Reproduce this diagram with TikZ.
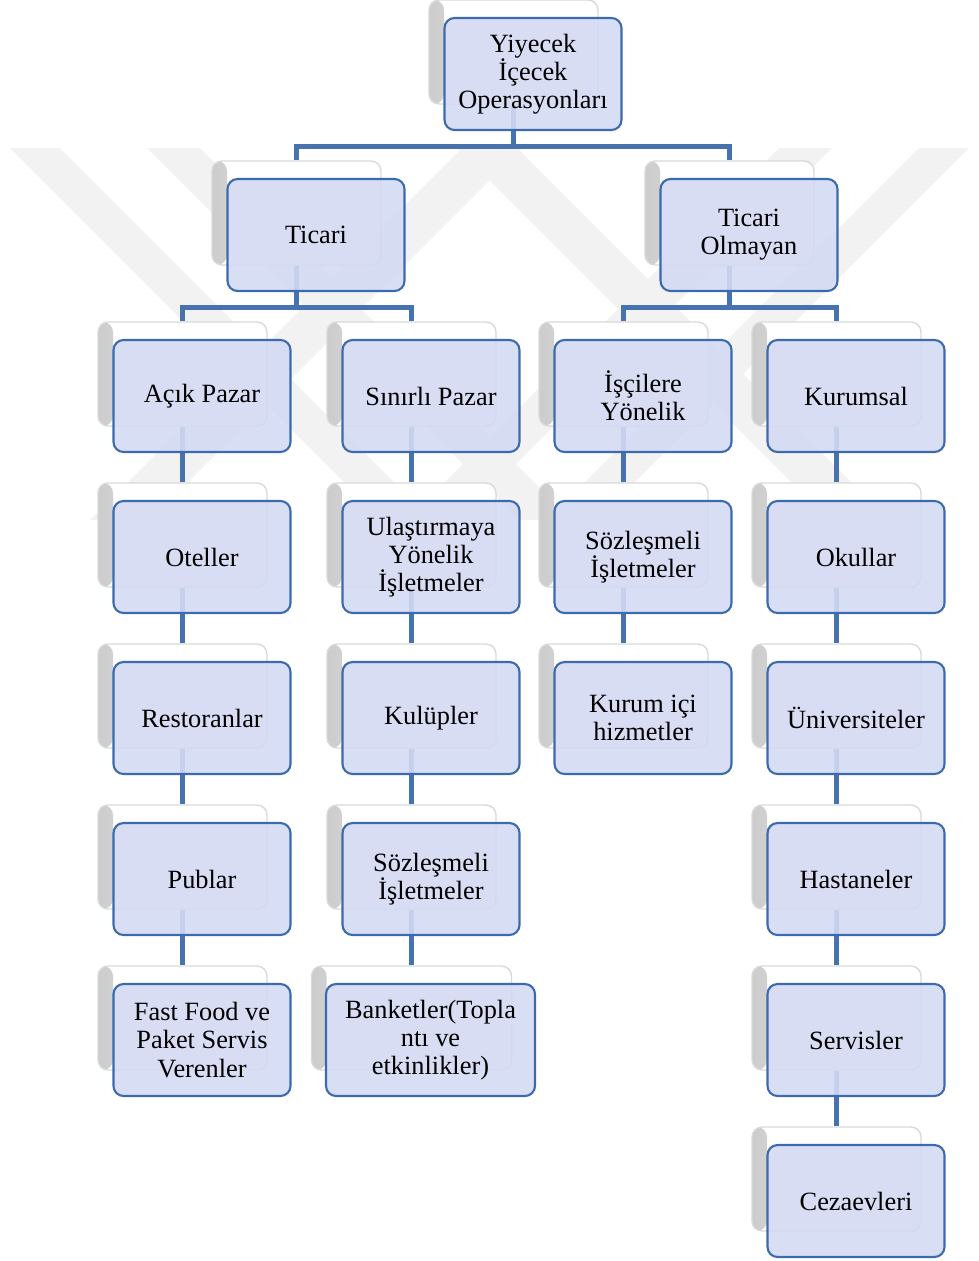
\documentclass[tikz,border=0pt]{standalone}
\usepackage{fontspec}
\setmainfont{Liberation Serif}
\definecolor{kenar}{HTML}{3C6AAE}
\definecolor{dolgu}{HTML}{D4DAF2}
\definecolor{hat}{HTML}{4673B0}
\begin{document}
\begin{tikzpicture}[x=0.02cm,y=-0.02cm,
	kutu/.style={draw=kenar,line width=1.2pt,fill=dolgu,fill opacity=0.9,text opacity=1,rounded corners=0.2cm,minimum width=3.54cm,minimum height=2.24cm,inner sep=0pt,align=center,font=\fontsize{15}{16}\selectfont},
	arka/.style={draw=black!15,line width=0.8pt,fill=white,rounded corners=0.2cm,minimum width=3.38cm,minimum height=2.08cm,inner sep=0pt,path picture={\shade[left color=black!20,right color=white] (path picture bounding box.north west) rectangle ([xshift=0.3cm]path picture bounding box.south west);}},
	bag/.style={draw=hat,line width=2.6pt},
	iz/.style={fill=black!5}]
	\useasboundingbox (0,0) rectangle (979,1261);
	
	% soluk arka plan
	\fill[iz] (10,148) -- (60,148) -- (432,520) -- (382,520) -- cycle;
	\fill[iz] (147,148) -- (200,148) -- (572,520) -- (519,520) -- cycle;
	\fill[iz] (969,148) -- (919,148) -- (547,520) -- (597,520) -- cycle;
	\fill[iz] (832,148) -- (779,148) -- (407,520) -- (460,520) -- cycle;
	\fill[iz] (90,520) -- (150,520) -- (522,148) -- (462,148) -- cycle;
	\fill[iz] (889,520) -- (829,520) -- (457,148) -- (517,148) -- cycle;
	
	% arka kartlar
	\node[arka] (gYI) at (513.5,52) {};
	\node[arka] (gTI) at (296.5,213) {};
	\node[arka] (gTO) at (729.5,213) {};
	\node[arka] (gAP) at (182.5,374) {};
	\node[arka] (gSP) at (411.5,374) {};
	\node[arka] (gIY) at (623.5,374) {};
	\node[arka] (gKU) at (836.5,374) {};
	\node[arka] (gOT) at (182.5,535) {};
	\node[arka] (gUY) at (411.5,535) {};
	\node[arka] (gSO) at (623.5,535) {};
	\node[arka] (gOK) at (836.5,535) {};
	\node[arka] (gRE) at (182.5,696) {};
	\node[arka] (gKL) at (411.5,696) {};
	\node[arka] (gKI) at (623.5,696) {};
	\node[arka] (gUN) at (836.5,696) {};
	\node[arka] (gPU) at (182.5,857) {};
	\node[arka] (gSI) at (411.5,857) {};
	\node[arka] (gHA) at (836.5,857) {};
	\node[arka] (gFF) at (182.5,1018) {};
	\node[arka,minimum width=4cm] (gBA) at (411.5,1018) {};
	\node[arka] (gSE) at (836.5,1018) {};
	\node[arka] (gCE) at (836.5,1179) {};
	
	% baglantilar
	\draw[bag] (gYI.south) -- ++(0,42) -| (gTI.north);
	\draw[bag] (gYI.south) -- ++(0,42) -| (gTO.north);
	\draw[bag] (gTI.south) -- ++(0,42) -| (gAP.north);
	\draw[bag] (gTI.south) -- ++(0,42) -| (gSP.north);
	\draw[bag] (gTO.south) -- ++(0,42) -| (gIY.north);
	\draw[bag] (gTO.south) -- ++(0,42) -| (gKU.north);
	\draw[bag] (gAP.south) -- (gOT.north);
	\draw[bag] (gOT.south) -- (gRE.north);
	\draw[bag] (gRE.south) -- (gPU.north);
	\draw[bag] (gPU.south) -- (gFF.north);
	\draw[bag] (gSP.south) -- (gUY.north);
	\draw[bag] (gUY.south) -- (gKL.north);
	\draw[bag] (gKL.south) -- (gSI.north);
	\draw[bag] (gSI.south) -- (gBA.north);
	\draw[bag] (gIY.south) -- (gSO.north);
	\draw[bag] (gSO.south) -- (gKI.north);
	\draw[bag] (gKU.south) -- (gOK.north);
	\draw[bag] (gOK.south) -- (gUN.north);
	\draw[bag] (gUN.south) -- (gHA.north);
	\draw[bag] (gHA.south) -- (gSE.north);
	\draw[bag] (gSE.south) -- (gCE.north);
	
	% kutular
	\node[kutu] (YI) at (533,74) {Yiyecek\\İçecek\\Operasyonları};
	\node[kutu] (TI) at (316,235) {Ticari};
	\node[kutu] (TO) at (749,235) {Ticari\\Olmayan};
	\node[kutu] (AP) at (202,396) {Açık Pazar};
	\node[kutu] (SP) at (431,396) {Sınırlı Pazar};
	\node[kutu] (IY) at (643,396) {İşçilere\\Yönelik};
	\node[kutu] (KU) at (856,396) {Kurumsal};
	\node[kutu] (OT) at (202,557) {Oteller};
	\node[kutu] (UY) at (431,557) {Ulaştırmaya\\Yönelik\\İşletmeler};
	\node[kutu] (SO) at (643,557) {Sözleşmeli\\İşletmeler};
	\node[kutu] (OK) at (856,557) {Okullar};
	\node[kutu] (RE) at (202,718) {Restoranlar};
	\node[kutu] (KL) at (431,718) {Kulüpler};
	\node[kutu] (KI) at (643,718) {Kurum içi\\hizmetler};
	\node[kutu] (UN) at (856,718) {Üniversiteler};
	\node[kutu] (PU) at (202,879) {Publar};
	\node[kutu] (SI) at (431,879) {Sözleşmeli\\İşletmeler};
	\node[kutu] (HA) at (856,879) {Hastaneler};
	\node[kutu] (FF) at (202,1040) {Fast Food ve\\Paket Servis\\Verenler};
	\node[kutu,minimum width=4.18cm] (BA) at (430.5,1040) {Banketler(Topla\\ntı ve\\etkinlikler)};
	\node[kutu] (SE) at (856,1040) {Servisler};
	\node[kutu] (CE) at (856,1201) {Cezaevleri};
\end{tikzpicture}
\end{document}
